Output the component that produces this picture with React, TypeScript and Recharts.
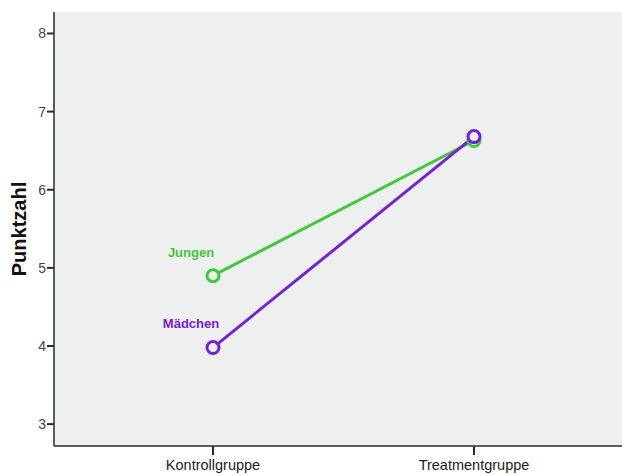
import { LineChart, Line, XAxis, YAxis, CartesianGrid } from 'recharts';

const groups = ['Kontrollgruppe', 'Treatmentgruppe'];
const jungen = [4.9, 6.63];
const maedchen = [3.98, 6.68];
const yTicks = [3, 4, 5, 6, 7, 8];

const GREEN = '#3fc83a';
const PURPLE = '#7421d2';
const PLOT_BG = '#eef0f0';
const AXIS = '#2b2b2b';
const FONT = 'Liberation Sans, Arial, sans-serif';

const data = groups.map((g, i) => ({ group: g, jungen: jungen[i], maedchen: maedchen[i] }));

// series name only next to the first point
const seriesLabel = (text: string, color: string, dx: number, dy: number) => (props: any) => {
  if (props.index !== 0) return null;
  return (
    <text
      x={props.x + dx}
      y={props.y + dy}
      textAnchor="middle"
      fill={color}
      fontSize={13}
      fontWeight="bold"
      fontFamily={FONT}
    >
      {text}
    </text>
  );
};

export default function App() {
  return (
    <div style={{ position: 'absolute', left: 0, top: 0, width: 622, height: 475, overflow: 'hidden', background: '#fff' }}>
      <LineChart width={640} height={475} data={data} margin={{ top: 12, right: 7, bottom: 0, left: 0 }}>
        <CartesianGrid fill={PLOT_BG} horizontal={false} vertical={false} />
        <XAxis
          dataKey="group"
          xAxisId="bottom"
          height={29}
          padding={{ left: 159, right: 159 }}
          axisLine={{ stroke: AXIS, strokeWidth: 1.5 }}
          tickLine={{ stroke: AXIS, strokeWidth: 2 }}
          tickSize={9}
          tick={{ fill: '#222', fontSize: 14.5, fontFamily: FONT }}
          tickMargin={5}
          interval={0}
        />
        <XAxis
          dataKey="group"
          xAxisId="top"
          orientation="top"
          height={0}
          tick={false}
          tickLine={false}
          axisLine={{ stroke: AXIS, strokeWidth: 1.5 }}
          padding={{ left: 159, right: 159 }}
        />
        <YAxis
          width={54}
          type="number"
          domain={[2.72, 8.275]}
          ticks={yTicks}
          allowDataOverflow
          axisLine={{ stroke: AXIS, strokeWidth: 1.5 }}
          tickLine={{ stroke: AXIS, strokeWidth: 2 }}
          tickSize={7}
          tickMargin={1}
          tick={{ fill: '#444', fontSize: 14, fontFamily: FONT }}
          label={{
            value: 'Punktzahl',
            angle: -90,
            position: 'center',
            dx: -8,
            style: { fill: '#111', fontSize: 20, fontWeight: 'bold', fontFamily: FONT },
          }}
        />
        <Line
          xAxisId="bottom"
          dataKey="jungen"
          stroke={GREEN}
          strokeWidth={3}
          dot={{ r: 6, stroke: GREEN, strokeWidth: 3, fill: PLOT_BG }}
          label={seriesLabel('Jungen', GREEN, -22, -19)}
          isAnimationActive={false}
        />
        <Line
          xAxisId="bottom"
          dataKey="maedchen"
          stroke={PURPLE}
          strokeWidth={3}
          dot={{ r: 6, stroke: PURPLE, strokeWidth: 3, fill: PLOT_BG }}
          label={seriesLabel('Mädchen', PURPLE, -22, -20)}
          isAnimationActive={false}
        />
      </LineChart>
    </div>
  );
}
